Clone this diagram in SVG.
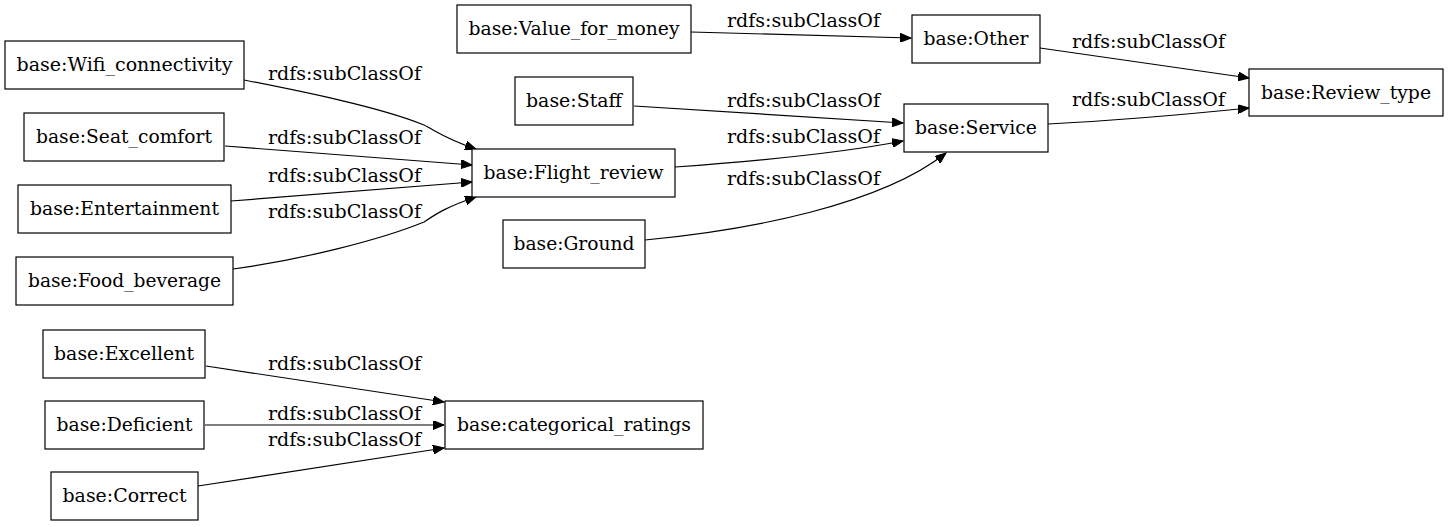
<svg xmlns="http://www.w3.org/2000/svg" width="1448" height="527" viewBox="0 0 1448 527">
<style>
.n rect{fill:#fff;stroke:#000;stroke-width:1.2}
text{font-family:"DejaVu Serif","Liberation Serif",serif;font-size:19px;fill:#000;text-anchor:middle}
.e path{fill:none;stroke:#000;stroke-width:1.2;marker-end:url(#ah)}
</style>
<defs>
<marker id="ah" markerUnits="userSpaceOnUse" markerWidth="12" markerHeight="9" refX="11" refY="4.5" orient="auto" viewBox="0 0 12 9">
<path d="M0,0 L11,4.5 L0,9 z" fill="#000" stroke="#000" stroke-width="1"/>
</marker>
</defs>
<rect width="1448" height="527" fill="#fff"/>
<g id="edges" class="e">
<path d="M691,32 L911,38"/>
<path d="M1040,48 L1249,78"/>
<path d="M1048,124 C1110,121 1190,114 1249,108"/>
<path d="M634,106 L903,123"/>
<path d="M675,167 C745,162 830,155 903,141"/>
<path d="M645,240 C750,230 880,205 946,153"/>
<path d="M244,80 C300,91 380,107 424,125 C436,131 446,139 476,149"/>
<path d="M225,146 L472,165"/>
<path d="M231,201 L472,182"/>
<path d="M233,269 C300,260 380,240 424,222 C436,214 446,207 476,197"/>
<path d="M206,366 L444,402"/>
<path d="M205,425 L444,425"/>
<path d="M198,486 L444,448"/>
<text x="803.5" y="27" textLength="153" lengthAdjust="spacingAndGlyphs">rdfs:subClassOf</text>
<text x="1148.5" y="48" textLength="153" lengthAdjust="spacingAndGlyphs">rdfs:subClassOf</text>
<text x="1148.5" y="106" textLength="153" lengthAdjust="spacingAndGlyphs">rdfs:subClassOf</text>
<text x="803.5" y="107" textLength="153" lengthAdjust="spacingAndGlyphs">rdfs:subClassOf</text>
<text x="803.5" y="143" textLength="153" lengthAdjust="spacingAndGlyphs">rdfs:subClassOf</text>
<text x="803.5" y="185" textLength="153" lengthAdjust="spacingAndGlyphs">rdfs:subClassOf</text>
<text x="344.5" y="80" textLength="153" lengthAdjust="spacingAndGlyphs">rdfs:subClassOf</text>
<text x="344.5" y="144" textLength="153" lengthAdjust="spacingAndGlyphs">rdfs:subClassOf</text>
<text x="344.5" y="181.5" textLength="153" lengthAdjust="spacingAndGlyphs">rdfs:subClassOf</text>
<text x="344.5" y="218" textLength="153" lengthAdjust="spacingAndGlyphs">rdfs:subClassOf</text>
<text x="344.5" y="370" textLength="153" lengthAdjust="spacingAndGlyphs">rdfs:subClassOf</text>
<text x="344.5" y="420" textLength="153" lengthAdjust="spacingAndGlyphs">rdfs:subClassOf</text>
<text x="344.5" y="446" textLength="153" lengthAdjust="spacingAndGlyphs">rdfs:subClassOf</text>
</g>
<g id="n_value_for_money" class="n"><rect x="457" y="5" width="234" height="48"/><text x="574" y="35" textLength="211" lengthAdjust="spacingAndGlyphs">base:Value_for_money</text></g>
<g id="n_other" class="n"><rect x="912" y="15" width="128" height="48"/><text x="976" y="45" textLength="105" lengthAdjust="spacingAndGlyphs">base:Other</text></g>
<g id="n_review_type" class="n"><rect x="1249" y="69" width="194" height="47"/><text x="1346" y="98.5" textLength="170" lengthAdjust="spacingAndGlyphs">base:Review_type</text></g>
<g id="n_staff" class="n"><rect x="515" y="77" width="118" height="48"/><text x="574" y="107" textLength="96" lengthAdjust="spacingAndGlyphs">base:Staff</text></g>
<g id="n_service" class="n"><rect x="904" y="104" width="144" height="48"/><text x="976" y="134" textLength="122" lengthAdjust="spacingAndGlyphs">base:Service</text></g>
<g id="n_flight_review" class="n"><rect x="472" y="149" width="203" height="48"/><text x="573.5" y="179" textLength="180" lengthAdjust="spacingAndGlyphs">base:Flight_review</text></g>
<g id="n_ground" class="n"><rect x="503" y="220" width="142" height="48"/><text x="574" y="250" textLength="121" lengthAdjust="spacingAndGlyphs">base:Ground</text></g>
<g id="n_wifi_connectivity" class="n"><rect x="5" y="41" width="239" height="48"/><text x="124.5" y="71" textLength="216" lengthAdjust="spacingAndGlyphs">base:Wifi_connectivity</text></g>
<g id="n_seat_comfort" class="n"><rect x="24" y="113" width="200" height="48"/><text x="124" y="143" textLength="176" lengthAdjust="spacingAndGlyphs">base:Seat_comfort</text></g>
<g id="n_entertainment" class="n"><rect x="18" y="185" width="213" height="48"/><text x="124.5" y="215" textLength="189" lengthAdjust="spacingAndGlyphs">base:Entertainment</text></g>
<g id="n_food_beverage" class="n"><rect x="16" y="257" width="217" height="48"/><text x="124.5" y="287" textLength="193" lengthAdjust="spacingAndGlyphs">base:Food_beverage</text></g>
<g id="n_excellent" class="n"><rect x="43" y="330" width="162" height="48"/><text x="124" y="360" textLength="140" lengthAdjust="spacingAndGlyphs">base:Excellent</text></g>
<g id="n_deficient" class="n"><rect x="45" y="401" width="159" height="48"/><text x="124.5" y="431" textLength="136" lengthAdjust="spacingAndGlyphs">base:Deficient</text></g>
<g id="n_correct" class="n"><rect x="51" y="472" width="147" height="48"/><text x="124.5" y="502" textLength="124" lengthAdjust="spacingAndGlyphs">base:Correct</text></g>
<g id="n_categorical_ratings" class="n"><rect x="445" y="401" width="258" height="48"/><text x="574" y="431" textLength="234" lengthAdjust="spacingAndGlyphs">base:categorical_ratings</text></g>
</svg>
